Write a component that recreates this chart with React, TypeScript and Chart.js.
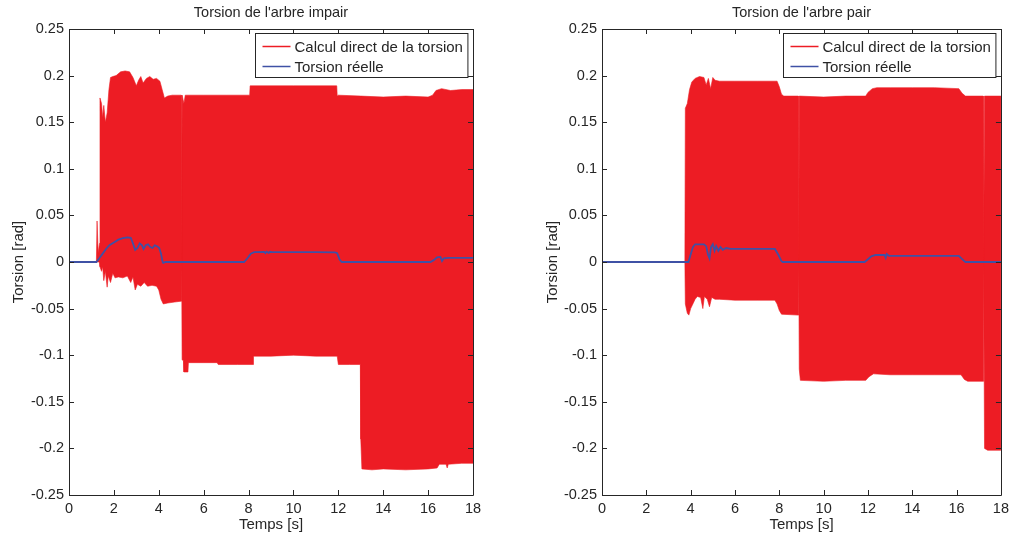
import React, { useEffect, useRef } from 'react';
import { Chart, registerables } from 'chart.js';
Chart.register(...registerables);

const RED = '#ED1C24';
const BLUE = '#3F51A5';
const INK = '#262626';
const FONT = '"Liberation Sans", Arial, Helvetica, sans-serif';

const xTicks = [0, 2, 4, 6, 8, 10, 12, 14, 16, 18];
const yTicks = [-0.25, -0.2, -0.15, -0.1, -0.05, 0, 0.05, 0.1, 0.15, 0.2, 0.25];
const legendLabels = ['Calcul direct de la torsion', 'Torsion réelle'];
const titleImpair = "Torsion de l'arbre impair";
const titlePair = "Torsion de l'arbre pair";
const xLabel = 'Temps [s]';
const yLabel = 'Torsion [rad]';

// ---- Left chart: arbre impair ----
const impairUpperT = [0, 1.22, 1.25, 1.3, 1.36, 1.38, 1.45, 1.5, 1.55, 1.62, 1.7, 1.78, 1.85, 1.95, 2.1, 2.3, 2.5, 2.7, 2.85, 3.0, 3.1, 3.2, 3.3, 3.45, 3.6, 3.75, 3.9, 4.05, 4.15, 4.25, 4.4, 4.6, 5.0, 5.02, 5.04, 5.12, 5.18, 6, 7, 8.05, 8.07, 9, 10, 11, 11.93, 11.95, 12, 13, 14, 15, 16, 16.2, 16.35, 16.6, 17, 17.5, 18];
const impairUpperV = [0, 0, 0.044, 0.01, 0.02, 0.176, 0.17, 0.155, 0.168, 0.15, 0.16, 0.185, 0.198, 0.199, 0.2, 0.204, 0.205, 0.204, 0.198, 0.189, 0.195, 0.199, 0.192, 0.197, 0.199, 0.196, 0.197, 0.194, 0.185, 0.176, 0.178, 0.179, 0.179, 0.0, 0.179, 0.17, 0.179, 0.179, 0.179, 0.179, 0.189, 0.189, 0.189, 0.189, 0.189, 0.178, 0.179, 0.178, 0.177, 0.178, 0.177, 0.179, 0.184, 0.186, 0.184, 0.185, 0.185];
const impairLowerT = [0, 1.36, 1.38, 1.45, 1.5, 1.55, 1.62, 1.7, 1.75, 1.85, 1.95, 2.05, 2.2, 2.4, 2.6, 2.75, 2.85, 2.95, 3.05, 3.2, 3.35, 3.5, 3.7, 3.9, 4.0, 4.1, 4.2, 4.4, 4.7, 5.0, 5.02, 5.04, 5.1, 5.12, 5.3, 5.32, 6.0, 6.6, 6.65, 7.5, 8.2, 8.22, 9, 10, 11, 11.95, 12.0, 12.5, 12.98, 13.0, 13.05, 13.5, 14, 15, 16, 16.4, 16.5, 16.8, 16.85, 16.9, 17.5, 18];
const impairLowerV = [0, 0, -0.005, -0.01, -0.005, -0.02, -0.01, -0.027, -0.015, -0.022, -0.012, -0.017, -0.016, -0.017, -0.015, -0.022, -0.016, -0.03, -0.024, -0.026, -0.022, -0.026, -0.025, -0.026, -0.03, -0.04, -0.045, -0.044, -0.043, -0.042, 0, -0.105, -0.106, -0.118, -0.118, -0.108, -0.108, -0.108, -0.11, -0.11, -0.11, -0.101, -0.101, -0.1, -0.101, -0.101, -0.11, -0.11, -0.11, -0.19, -0.222, -0.223, -0.222, -0.223, -0.222, -0.221, -0.217, -0.217, -0.221, -0.217, -0.216, -0.216];
const impairRealT = [0, 1.22, 1.35, 1.5, 1.65, 1.8, 2.0, 2.2, 2.4, 2.6, 2.75, 2.85, 2.95, 3.05, 3.15, 3.25, 3.32, 3.42, 3.52, 3.62, 3.72, 3.82, 3.92, 4.02, 4.1, 4.17, 4.2, 4.3, 7.8, 7.95, 8.1, 8.25, 8.7, 8.75, 8.8, 8.9, 8.95, 9.05, 10, 11, 11.85, 11.95, 12.05, 12.15, 16.1, 16.25, 16.4, 16.55, 16.62, 16.7, 16.9, 18];
const impairRealV = [0, 0, 0.004, 0.009, 0.014, 0.018, 0.021, 0.024, 0.0255, 0.0265, 0.026, 0.02, 0.013, 0.015, 0.02, 0.018, 0.014, 0.018, 0.019, 0.016, 0.015, 0.018, 0.017, 0.015, 0.009, 0.0, -0.001, 0, 0, 0.004, 0.009, 0.0105, 0.0108, 0.0095, 0.011, 0.0098, 0.011, 0.0105, 0.0107, 0.0105, 0.0103, 0.0095, 0.003, 0, 0, 0.002, 0.005, 0.0055, 0.001, 0.004, 0.0045, 0.0045];

// ---- Right chart: arbre pair ----
const pairUpperT = [0, 3.74, 3.76, 3.85, 3.95, 4.05, 4.2, 4.4, 4.6, 4.7, 4.8, 4.9, 5.0, 5.1, 5.3, 6, 7, 7.9, 8.0, 8.1, 8.2, 8.86, 8.88, 8.9, 10, 11, 11.9, 12.0, 12.2, 12.4, 13, 14, 15, 16.1, 16.25, 16.4, 17.2, 17.22, 17.26, 18];
const pairUpperV = [0, 0, 0.165, 0.17, 0.185, 0.193, 0.197, 0.199, 0.198, 0.19, 0.197, 0.186, 0.198, 0.195, 0.194, 0.194, 0.194, 0.194, 0.188, 0.18, 0.178, 0.178, 0, 0.178, 0.177, 0.178, 0.178, 0.182, 0.186, 0.187, 0.187, 0.187, 0.187, 0.186, 0.181, 0.178, 0.178, 0, 0.178, 0.178];
const pairLowerT = [0, 3.74, 3.76, 3.85, 3.92, 4.0, 4.1, 4.2, 4.3, 4.45, 4.55, 4.62, 4.75, 4.85, 4.95, 5.1, 5.3, 6, 7, 7.8, 7.9, 8.0, 8.1, 8.86, 8.88, 8.9, 8.95, 10, 11, 11.9, 12.05, 12.25, 13, 14, 15, 16.2, 16.35, 16.5, 17.2, 17.22, 17.26, 17.4, 18];
const pairLowerV = [0, 0, -0.045, -0.055, -0.057, -0.05, -0.045, -0.04, -0.037, -0.038, -0.05, -0.037, -0.04, -0.048, -0.038, -0.04, -0.04, -0.041, -0.041, -0.041, -0.045, -0.052, -0.056, -0.057, 0, -0.115, -0.127, -0.128, -0.127, -0.127, -0.123, -0.12, -0.121, -0.121, -0.121, -0.121, -0.126, -0.128, -0.128, 0, -0.2, -0.202, -0.202];
const pairRealT = [0, 3.9, 4.0, 4.1, 4.2, 4.6, 4.7, 4.78, 4.85, 4.92, 5.0, 5.08, 5.15, 5.25, 5.35, 5.45, 5.6, 5.8, 6.5, 7.5, 7.8, 7.95, 8.1, 8.15, 11.85, 12.0, 12.15, 12.35, 12.75, 12.8, 12.85, 12.95, 13.5, 15, 16.1, 16.25, 16.4, 18];
const pairRealV = [0, 0, 0.008, 0.016, 0.019, 0.019, 0.017, 0.008, 0.004, 0.016, 0.019, 0.012, 0.017, 0.012, 0.016, 0.013, 0.015, 0.014, 0.014, 0.014, 0.014, 0.008, 0.001, 0, 0, 0.003, 0.006, 0.0075, 0.0075, 0.0045, 0.0085, 0.0065, 0.0065, 0.0065, 0.0065, 0.003, 0, 0];

type Spec = {
  title: string;
  upT: number[]; upV: number[];
  loT: number[]; loV: number[];
  reT: number[]; reV: number[];
  padLeft: number; padRight: number; yLabelX: number;
};

const pts = (t: number[], v: number[]) => t.map((x, i) => ({ x, y: v[i] }));

function framePlugin(spec: Spec) {
  return {
    id: 'matlabFrame',
    afterDatasetsDraw(chart: any) {
      const { ctx, chartArea: a } = chart;
      const xs = chart.scales.x;
      const ys = chart.scales.y;
      ctx.save();
      ctx.strokeStyle = INK;
      ctx.lineWidth = 1;
      ctx.beginPath();
      ctx.rect(Math.round(a.left) + 0.5, Math.round(a.top) + 0.5, Math.round(a.right - a.left), Math.round(a.bottom - a.top));
      ctx.stroke();
      const tl = 5;
      ctx.beginPath();
      xTicks.forEach((v) => {
        const px = Math.round(xs.getPixelForValue(v)) + 0.5;
        ctx.moveTo(px, a.bottom); ctx.lineTo(px, a.bottom - tl);
        ctx.moveTo(px, a.top); ctx.lineTo(px, a.top + tl);
      });
      yTicks.forEach((v) => {
        const py = Math.round(ys.getPixelForValue(v)) + 0.5;
        ctx.moveTo(a.left, py); ctx.lineTo(a.left + tl, py);
        ctx.moveTo(a.right, py); ctx.lineTo(a.right - tl, py);
      });
      ctx.stroke();

      // legend
      ctx.font = `15px ${FONT}`;
      const tw = Math.max(...legendLabels.map((l) => ctx.measureText(l).width));
      const bw = tw + 44;
      const bx = Math.round(a.right - 6 - bw) + 0.5;
      const by = Math.round(a.top + 4) + 0.5;
      const bh = 44;
      ctx.fillStyle = '#ffffff';
      ctx.fillRect(bx, by, bw, bh);
      ctx.strokeStyle = INK;
      ctx.strokeRect(bx, by, bw, bh);
      const colors = [RED, BLUE];
      legendLabels.forEach((l, i) => {
        const ly = by + 13 + i * 20;
        ctx.strokeStyle = colors[i];
        ctx.lineWidth = 1.5;
        ctx.beginPath();
        ctx.moveTo(bx + 7, ly); ctx.lineTo(bx + 35, ly);
        ctx.stroke();
        ctx.fillStyle = INK;
        ctx.textAlign = 'left';
        ctx.textBaseline = 'middle';
        ctx.fillText(l, bx + 39, ly + 1);
      });

      // title
      ctx.font = `14.5px ${FONT}`;
      ctx.fillStyle = INK;
      ctx.textAlign = 'center';
      ctx.textBaseline = 'middle';
      ctx.fillText(spec.title, (a.left + a.right) / 2, 13);
      // x label
      ctx.font = `15px ${FONT}`;
      ctx.fillText(xLabel, (a.left + a.right) / 2, 525);
      // y label
      ctx.save();
      ctx.translate(spec.yLabelX, (a.top + a.bottom) / 2);
      ctx.rotate(-Math.PI / 2);
      ctx.fillText(yLabel, 0, 0);
      ctx.restore();
      ctx.restore();
    },
  };
}

function makeConfig(spec: Spec): any {
  const tickFont = { family: FONT, size: 14.5 };
  return {
    type: 'line',
    data: {
      datasets: [
        { data: pts(spec.reT, spec.reV), order: 0, borderColor: BLUE, borderWidth: 1.8, fill: false, pointRadius: 0, tension: 0 },
        { data: pts(spec.upT, spec.upV), order: 1, borderColor: RED, backgroundColor: RED, borderWidth: 0.6, fill: 'origin', pointRadius: 0, tension: 0 },
        { data: pts(spec.loT, spec.loV), order: 2, borderColor: RED, backgroundColor: RED, borderWidth: 0.6, fill: 'origin', pointRadius: 0, tension: 0 },
      ],
    },
    options: {
      responsive: false,
      animation: false,
      events: [],
      layout: { padding: { left: spec.padLeft, right: spec.padRight, top: 29, bottom: 0 } },
      plugins: { legend: { display: false }, title: { display: false }, tooltip: { enabled: false } },
      scales: {
        x: {
          type: 'linear', min: 0, max: 18,
          afterBuildTicks: (s: any) => { s.ticks = xTicks.map((v) => ({ value: v })); },
          afterFit: (s: any) => { s.height = 40; },
          grid: { display: false, drawTicks: false },
          border: { display: false },
          ticks: { font: tickFont, color: INK, padding: 5, maxRotation: 0, autoSkip: false, callback: (v: number) => String(v) },
        },
        y: {
          type: 'linear', min: -0.25, max: 0.25,
          afterBuildTicks: (s: any) => { s.ticks = yTicks.map((v) => ({ value: v })); },
          afterFit: (s: any) => { s.width = 69; },
          grid: { display: false, drawTicks: false },
          border: { display: false },
          ticks: { font: tickFont, color: INK, padding: 5, autoSkip: false, callback: (v: number) => String(Math.round(v * 100) / 100) },
        },
      },
    },
    plugins: [framePlugin(spec)],
  };
}

function Panel({ spec, left }: { spec: Spec; left: number }) {
  const ref = useRef<HTMLCanvasElement>(null);
  useEffect(() => {
    const c = new Chart(ref.current as HTMLCanvasElement, makeConfig(spec));
    return () => c.destroy();
  }, []);
  return (
    <canvas ref={ref} width={507} height={535} style={{ position: 'absolute', left, top: 0, width: 507, height: 535 }} />
  );
}

const impairSpec: Spec = {
  title: titleImpair,
  upT: impairUpperT, upV: impairUpperV,
  loT: impairLowerT, loV: impairLowerV,
  reT: impairRealT, reV: impairRealV,
  padLeft: 0, padRight: 34, yLabelX: 19,
};
const pairSpec: Spec = {
  title: titlePair,
  upT: pairUpperT, upV: pairUpperV,
  loT: pairLowerT, loV: pairLowerV,
  reT: pairRealT, reV: pairRealV,
  padLeft: 26, padRight: 9, yLabelX: 46,
};

export default function App() {
  return (
    <div style={{ position: 'absolute', left: 0, top: 0, width: 1014, height: 535, background: '#fff', overflow: 'hidden' }}>
      <Panel spec={impairSpec} left={0} />
      <Panel spec={pairSpec} left={507} />
    </div>
  );
}
